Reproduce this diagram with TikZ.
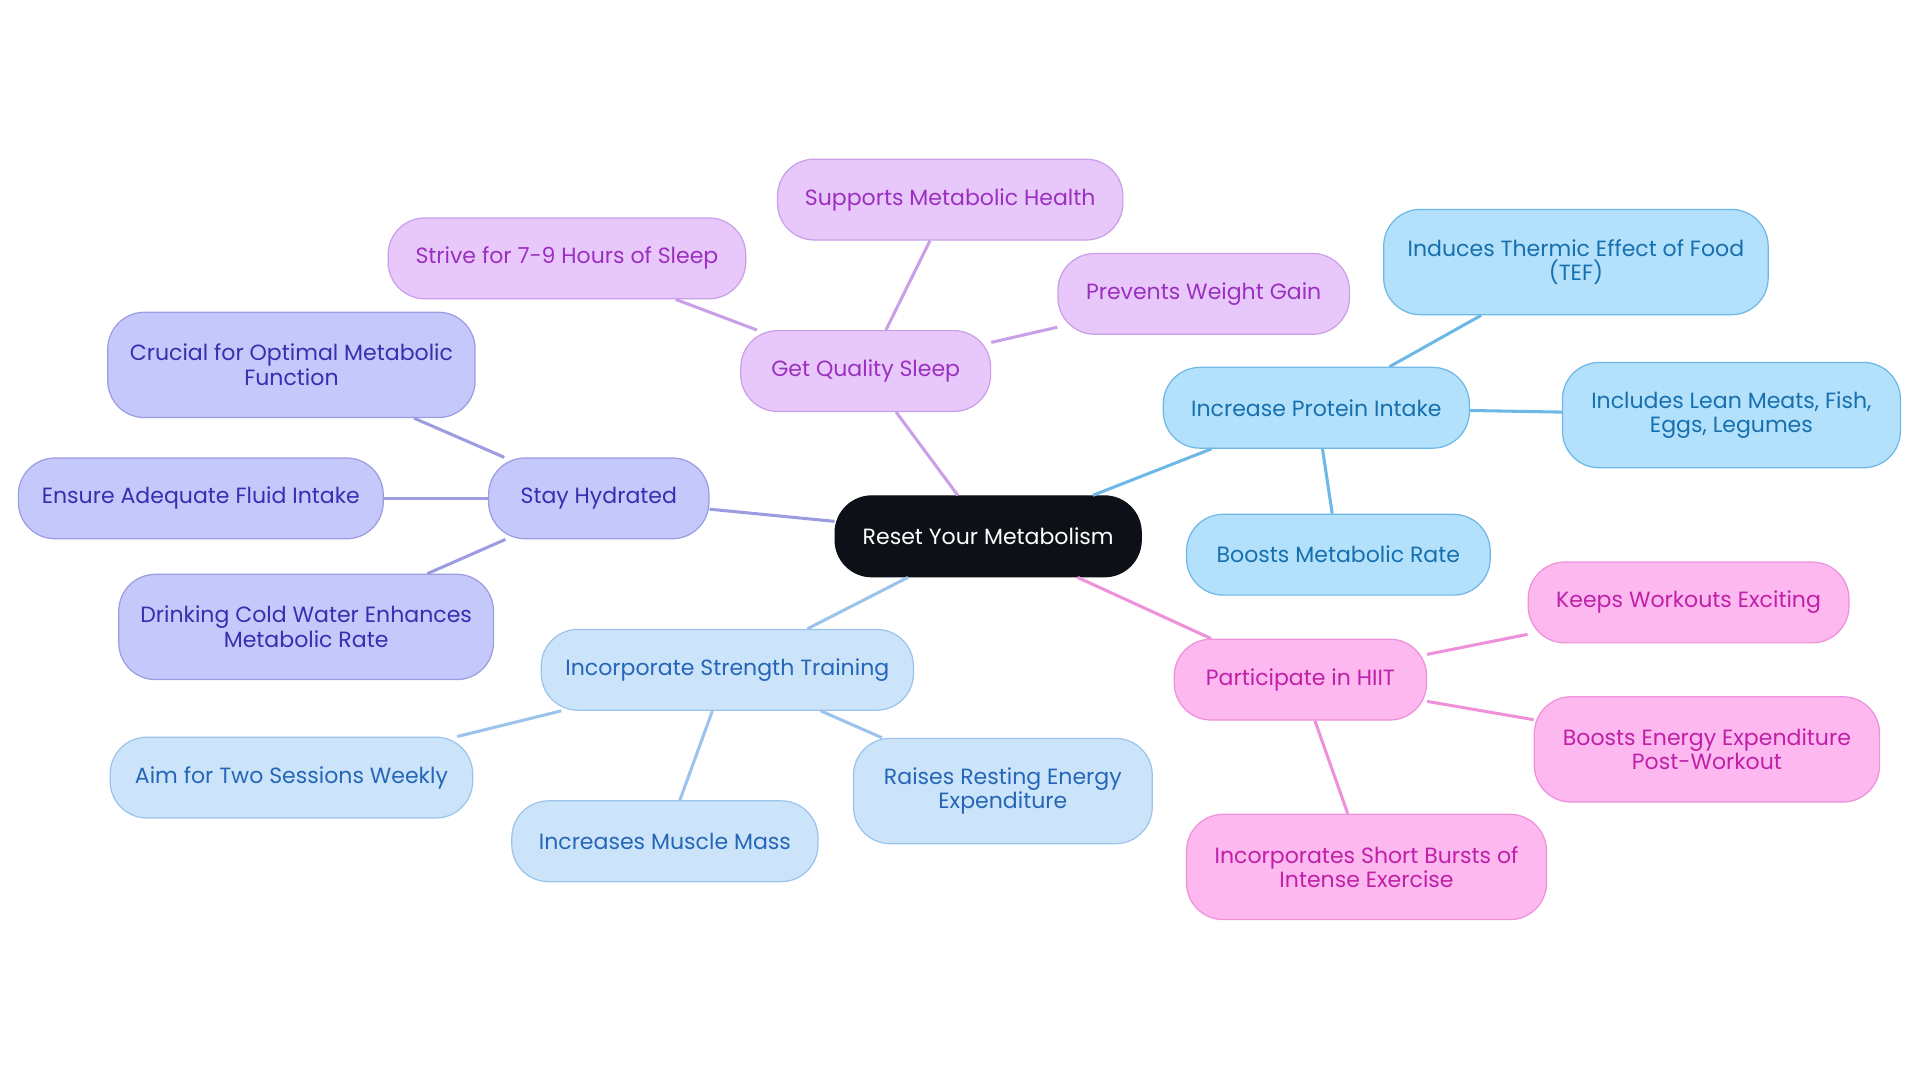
\documentclass[tikz,border=0pt]{standalone}
\usepackage{fontspec}
\setmainfont{Poppins}
\usetikzlibrary{positioning}
\definecolor{rootfill}{RGB}{13,17,23}
\definecolor{sleepfill}{RGB}{232,200,250}\definecolor{sleepline}{RGB}{201,160,232}\definecolor{sleeptext}{RGB}{155,48,192}
\definecolor{hydrfill}{RGB}{197,200,250}\definecolor{hydrline}{RGB}{156,156,224}\definecolor{hydrtext}{RGB}{58,45,176}
\definecolor{protfill}{RGB}{179,224,250}\definecolor{protline}{RGB}{110,184,232}\definecolor{prottext}{RGB}{22,112,176}
\definecolor{strfill}{RGB}{204,228,250}\definecolor{strline}{RGB}{156,195,236}\definecolor{strtext}{RGB}{37,102,184}
\definecolor{hiitfill}{RGB}{253,184,240}\definecolor{hiitline}{RGB}{238,144,218}\definecolor{hiittext}{RGB}{192,32,168}
\tikzset{
  box/.style={rectangle, rounded corners=30pt, draw, line width=1pt, minimum height=66pt, align=center, font=\fontsize{18}{20}\selectfont, inner sep=2pt},
  root/.style={box, fill=rootfill, draw=rootfill, text=white},
  sleep/.style={box, fill=sleepfill, draw=sleepline, text=sleeptext},
  hydr/.style={box, fill=hydrfill, draw=hydrline, text=hydrtext},
  prot/.style={box, fill=protfill, draw=protline, text=prottext},
  str/.style={box, fill=strfill, draw=strline, text=strtext},
  hiit/.style={box, fill=hiitfill, draw=hiitline, text=hiittext},
  link/.style={line width=2.5pt}
}
\begin{document}
\begin{tikzpicture}[x=1pt, y=-1pt]
    \useasboundingbox (0,0) rectangle (1568,884);
    % Root
    \node[root, minimum width=250pt] (root) at (807,438) {Reset Your Metabolism};

    % Sleep
    \node[sleep, minimum width=204pt] (sleep) at (707,303) {Get Quality Sleep};
    \node[sleep, minimum width=282pt] (supports) at (776,163) {Supports Metabolic Health};
    \node[sleep, minimum width=292pt] (strive) at (463,211) {Strive for 7-9 Hours of Sleep};
    \node[sleep, minimum width=238pt] (prevents) at (983,240) {Prevents Weight Gain};

    % Hydration
    \node[hydr, minimum width=180pt] (hydr) at (489,407) {Stay Hydrated};
    \node[hydr, minimum width=300pt, minimum height=86pt] (crucial) at (238,298) {Crucial for Optimal Metabolic\\Function};
    \node[hydr, minimum width=298pt] (fluid) at (164,407) {Ensure Adequate Fluid Intake};
    \node[hydr, minimum width=306pt, minimum height=86pt] (cold) at (250,512) {Drinking Cold Water Enhances\\Metabolic Rate};

    % Protein
    \node[prot, minimum width=250pt] (prot) at (1075,333) {Increase Protein Intake};
    \node[prot, minimum width=314pt, minimum height=86pt] (tef) at (1287,214) {Induces Thermic Effect of Food\\(TEF)};
    \node[prot, minimum width=276pt, minimum height=86pt] (lean) at (1414,339) {Includes Lean Meats, Fish,\\Eggs, Legumes};
    \node[prot, minimum width=248pt] (rate) at (1093,453) {Boosts Metabolic Rate};

    % Strength
    \node[str, minimum width=304pt] (str) at (594,547) {Incorporate Strength Training};
    \node[str, minimum width=296pt] (aim) at (238,635) {Aim for Two Sessions Weekly};
    \node[str, minimum width=250pt] (mass) at (543,687) {Increases Muscle Mass};
    \node[str, minimum width=244pt, minimum height=86pt] (resting) at (819,646) {Raises Resting Energy\\Expenditure};

    % HIIT
    \node[hiit, minimum width=206pt] (hiit) at (1062,555) {Participate in HIIT};
    \node[hiit, minimum width=262pt] (keeps) at (1379,492) {Keeps Workouts Exciting};
    \node[hiit, minimum width=282pt, minimum height=86pt] (energy) at (1394,612) {Boosts Energy Expenditure\\Post-Workout};
    \node[hiit, minimum width=294pt, minimum height=86pt] (bursts) at (1116,708) {Incorporates Short Bursts of\\Intense Exercise};

    % Links
    \draw[link, sleepline] (root) -- (sleep);
    \draw[link, sleepline] (sleep) -- (supports);
    \draw[link, sleepline] (sleep) -- (strive);
    \draw[link, sleepline] (sleep) -- (prevents);
    \draw[link, hydrline] (root) -- (hydr);
    \draw[link, hydrline] (hydr) -- (crucial);
    \draw[link, hydrline] (hydr) -- (fluid);
    \draw[link, hydrline] (hydr) -- (cold);
    \draw[link, protline] (root) -- (prot);
    \draw[link, protline] (prot) -- (tef);
    \draw[link, protline] (prot) -- (lean);
    \draw[link, protline] (prot) -- (rate);
    \draw[link, strline] (root) -- (str);
    \draw[link, strline] (str) -- (aim);
    \draw[link, strline] (str) -- (mass);
    \draw[link, strline] (str) -- (resting);
    \draw[link, hiitline] (root) -- (hiit);
    \draw[link, hiitline] (hiit) -- (keeps);
    \draw[link, hiitline] (hiit) -- (energy);
    \draw[link, hiitline] (hiit) -- (bursts);
\end{tikzpicture}
\end{document}
